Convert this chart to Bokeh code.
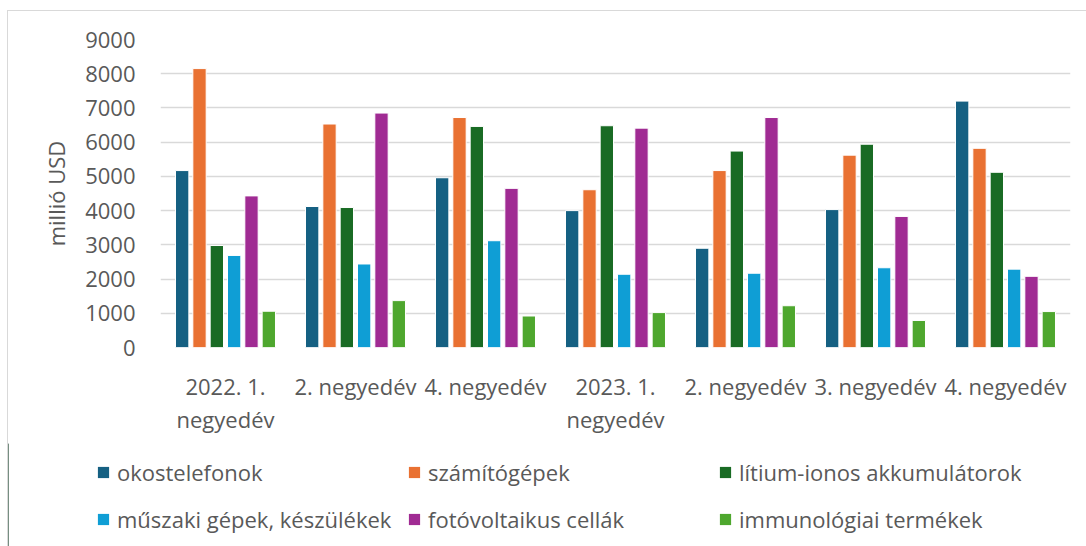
from bokeh.plotting import figure
from bokeh.layouts import column
from bokeh.models import ColumnDataSource, FixedTicker, Legend, LegendItem, Range1d
from bokeh.embed import file_html
from bokeh.resources import INLINE
from bokeh.transform import dodge

categories = ["2022. 1.\nnegyedév", "2. negyedév", "4. negyedév", "2023. 1.\nnegyedév",
              "2. negyedév", "3. negyedév", "4. negyedév"]
series_names = ["okostelefonok", "számítógépek", "lítium-ionos akkumulátorok",
                "műszaki gépek, készülékek", "fotóvoltaikus cellák", "immunológiai termékek"]
okostelefonok = [5170, 4120, 4960, 4000, 2900, 4030, 7200]
szamitogepek = [8150, 6530, 6720, 4610, 5170, 5620, 5820]
litium_ionos = [2980, 4090, 6460, 6480, 5740, 5940, 5120]
muszaki_gepek = [2690, 2440, 3120, 2140, 2170, 2330, 2290]
fotovoltaikus = [4430, 6850, 4650, 6410, 6720, 3830, 2080]
immunologiai = [1060, 1370, 920, 1020, 1220, 790, 1050]
y_ticks = [0, 1000, 2000, 3000, 4000, 5000, 6000, 7000, 8000, 9000]
y_label = "millió USD"

colors = ["#156082", "#E97132", "#196B24", "#0F9ED5", "#A02B93", "#4EA72E"]
FONT = "Open Sans"
TXT = "#595959"
FS = "22px"

xs = list(range(len(categories)))
cols = ["s0", "s1", "s2", "s3", "s4", "s5"]
series = [okostelefonok, szamitogepek, litium_ionos, muszaki_gepek, fotovoltaikus, immunologiai]
data = {"x": xs}
for c, s in zip(cols, series):
    data[c] = s
source = ColumnDataSource(data)

W = 1078
H1 = 432
H2 = 103

p = figure(width=W, height=H1, output_backend="svg", toolbar_location=None,
           x_range=Range1d(-0.5, len(categories) - 0.5), y_range=Range1d(0, 9000),
           min_border_left=152, min_border_right=16, min_border_top=28, min_border_bottom=96)
p.frame_align = False

pitch = 0.1333
bw = 0.1026
for i, c in enumerate(cols):
    p.vbar(x=dodge("x", (i - 2.5) * pitch, range=p.x_range), top=c, width=bw,
           source=source, fill_color=colors[i], line_color="white", line_width=1)

p.outline_line_color = None
p.xgrid.grid_line_color = None
p.ygrid.grid_line_color = "#d9d9d9"
p.ygrid.grid_line_width = 1.5
p.ygrid.ticker = FixedTicker(ticks=y_ticks)

p.yaxis.ticker = FixedTicker(ticks=y_ticks)
p.yaxis.axis_line_color = None
p.yaxis.major_tick_line_color = None
p.yaxis.minor_tick_line_color = None
p.yaxis.major_label_text_font = FONT
p.yaxis.major_label_text_font_size = FS
p.yaxis.major_label_text_color = TXT
p.yaxis.major_label_standoff = 19
p.yaxis.axis_label = y_label
p.yaxis.axis_label_text_font = FONT
p.yaxis.axis_label_text_font_size = FS
p.yaxis.axis_label_text_font_style = "normal"
p.yaxis.axis_label_text_color = TXT
p.yaxis.axis_label_standoff = 11

p.xaxis.ticker = FixedTicker(ticks=xs)
p.xaxis.major_label_overrides = {i: c for i, c in enumerate(categories)}
p.xaxis.axis_line_color = None
p.xaxis.major_tick_line_color = None
p.xaxis.minor_tick_line_color = None
p.xaxis.major_label_text_font = FONT
p.xaxis.major_label_text_font_size = FS
p.xaxis.major_label_text_color = TXT
p.xaxis.major_label_standoff = 17
p.xaxis.major_label_text_line_height = 1.1

# legend panel (swatches come from off-range bars of the same colours, no outline)
q = figure(width=W, height=H2, output_backend="svg", toolbar_location=None,
           x_range=Range1d(0, 1), y_range=Range1d(0, 1),
           x_axis_location=None, y_axis_location=None,
           min_border_left=0, min_border_right=0, min_border_top=0, min_border_bottom=0)
q.frame_align = False
q.outline_line_color = None
q.xgrid.grid_line_color = None
q.ygrid.grid_line_color = None
items = []
for i, n in enumerate(series_names):
    r = q.vbar(x=[-10], top=[1], width=0.1, fill_color=colors[i], line_color=None)
    items.append(LegendItem(label=n, renderers=[r]))
legend = Legend(items=items, orientation="horizontal", ncols=3,
                location=(88, 4), padding=0, margin=0, spacing=0,
                glyph_width=14, glyph_height=14, label_standoff=7,
                label_width=290, label_height=47,
                label_text_font=FONT, label_text_font_size=FS, label_text_color=TXT,
                border_line_color=None, background_fill_alpha=0)
q.add_layout(legend, "center")

layout = column(p, q, spacing=0)
layout.styles = {"margin-left": "7px", "margin-top": "10px",
                 "border-top": "1px solid #d9d9d9", "border-left": "1px solid #d9d9d9"}

open("out.html", "w").write(file_html(layout, INLINE))
